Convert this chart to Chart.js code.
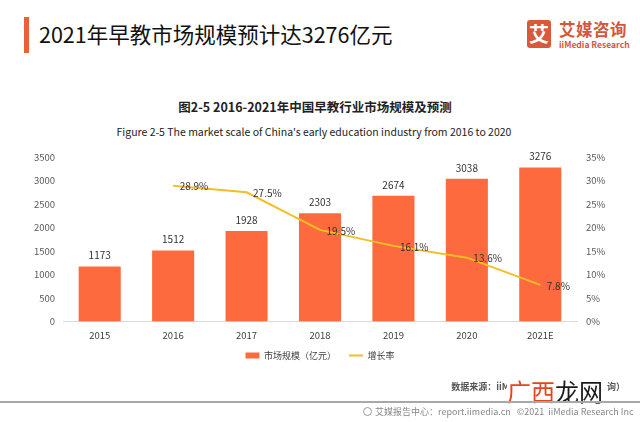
<!DOCTYPE html>
<html><head><meta charset="utf-8">
<script src="https://cdn.jsdelivr.net/npm/chart.js@4.4.1/dist/chart.umd.min.js"></script>
<style>
html,body{margin:0;padding:0;background:#fff;}
body{width:640px;height:422px;overflow:hidden;position:relative;font-family:"Noto Sans CJK SC","Noto Sans",sans-serif;}
.abs{position:absolute;white-space:nowrap;}
#accent{left:24px;top:17px;width:5px;height:36px;background:#E8603C;}
#title{left:39px;top:22px;font-size:21.5px;line-height:24px;color:#111;}
#logoBox{left:527px;top:20px;width:24px;height:28px;border-radius:3px;background:#D9593A;color:#fff;font-size:20px;font-weight:bold;line-height:28px;text-align:center;}
#logoCn{left:559px;top:19px;font-size:16.5px;line-height:20px;font-weight:bold;color:#D4573A;letter-spacing:0.5px;}
#logoEn{left:559px;top:39px;font-size:8.5px;line-height:10px;font-weight:bold;color:#D4573A;}
#ctitle{left:0;width:630px;top:99px;text-align:center;font-size:12.5px;line-height:16px;font-weight:bold;color:#222;}
#csub{left:0;width:628px;top:124px;text-align:center;font-size:10.5px;line-height:16px;color:#222;}
#wrap{left:0;top:140px;width:640px;height:241px;}
#source{right:15px;top:380px;font-size:9px;line-height:14px;color:#555;font-weight:bold;}
#wm{left:507px;top:379px;width:100px;height:24px;background:#fff;font-size:24px;line-height:24px;}
#rule{left:0;top:401px;width:640px;height:2px;background:#A8A8A8;}
#footer{left:363px;top:405px;font-size:9px;line-height:14px;color:#888;}
#footer .ic{display:inline-block;width:9px;height:9px;border:1px solid #999;border-radius:50%;vertical-align:-1px;margin-right:3px;box-sizing:border-box;}
</style></head>
<body>
<div class="abs" id="accent"></div>
<div class="abs" id="title">2021年早教市场规模预计达3276亿元</div>
<div class="abs" id="logoBox">艾</div>
<div class="abs" id="logoCn">艾媒咨询</div>
<div class="abs" id="logoEn">iiMedia Research</div>
<div class="abs" id="ctitle">图2-5 2016-2021年中国早教行业市场规模及预测</div>
<div class="abs" id="csub">Figure 2-5 The market scale of China's early education industry from 2016 to 2020</div>
<div class="abs" id="wrap"><canvas id="c"></canvas></div>
<div class="abs" id="source">数据来源：iiMedia Research（艾媒咨询）</div>
<div class="abs" id="wm"><span style="color:#E2461C">广西</span><span style="color:#1a1a1a">龙网</span></div>
<div class="abs" id="rule"></div>
<div class="abs" id="footer"><span class="ic"></span>艾媒报告中心：report.iimedia.cn&nbsp;&nbsp;&nbsp;©2021&nbsp;&nbsp;iiMedia Research Inc</div>
<script>
const categories = ['2015','2016','2017','2018','2019','2020','2021E'];
const marketSize = [1173,1512,1928,2303,2674,3038,3276];
const growthRate = [null,28.9,27.5,19.5,16.1,13.6,7.8];
const seriesNames = ['市场规模（亿元）','增长率'];

const FONT = '"Noto Sans CJK SC","Noto Sans",sans-serif';
const BAR_COLOR = '#FD6A3E';
const LINE_COLOR = '#F1BF24';

const valueLabels = {
  id: 'valueLabels',
  afterDatasetsDraw(chart) {
    const ctx = chart.ctx;
    ctx.save();
    ctx.font = '10px ' + FONT;
    ctx.fillStyle = '#333';
    ctx.textBaseline = 'middle';
    ctx.textAlign = 'center';
    chart.getDatasetMeta(0).data.forEach((el, i) => {
      ctx.fillText(String(marketSize[i]), el.x, el.y - 11);
    });
    ctx.textAlign = 'left';
    chart.getDatasetMeta(1).data.forEach((el, i) => {
      if (growthRate[i] == null) return;
      ctx.fillText(growthRate[i].toFixed(1) + '%', el.x + 6.5, el.y + 1);
    });
    ctx.restore();
  }
};

// pull the legend a little closer to the axis labels
const legendShift = {
  id: 'legendShift',
  afterLayout(chart) {
    const lg = chart.legend;
    if (lg) { lg.top -= 11; lg.bottom -= 11; }
  }
};

new Chart(document.getElementById('c'), {
  data: {
    labels: categories,
    datasets: [
      {type: 'bar', label: seriesNames[0], data: marketSize, backgroundColor: BAR_COLOR,
       borderWidth: 0, yAxisID: 'y', order: 1, pointStyle: 'rect',
       categoryPercentage: 1, barPercentage: 0.573},
      {type: 'line', label: seriesNames[1], data: growthRate, borderColor: LINE_COLOR,
       backgroundColor: LINE_COLOR, borderWidth: 2, pointRadius: 0, pointStyle: 'line',
       yAxisID: 'y1', order: 0, tension: 0, spanGaps: false}
    ]
  },
  options: {
    responsive: true, maintainAspectRatio: false, animation: false,
    layout: {padding: {top: 17, left: 0, right: 0, bottom: 0}},
    plugins: {
      tooltip: {enabled: false},
      title: {display: false},
      legend: {
        position: 'bottom',
        labels: {
          usePointStyle: true, pointStyleWidth: 14, boxHeight: 6,
          font: {size: 9, family: FONT}, color: '#404040', padding: 13,
          sort: (a, b) => a.datasetIndex - b.datasetIndex
        }
      }
    },
    scales: {
      x: {
        grid: {display: false, drawTicks: false},
        border: {display: true, color: '#D9D9D9'},
        ticks: {padding: 8, color: '#404040', font: {size: 9.5, family: FONT}}
      },
      y: {
        position: 'left', min: 0, max: 3500,
        grid: {display: false, drawTicks: false}, border: {display: false},
        ticks: {stepSize: 500, padding: 8, color: '#595959', font: {size: 9.5, family: FONT},
                callback: v => String(v)},
        afterFit(s) { s.width = 63; }
      },
      y1: {
        position: 'right', min: 0, max: 35,
        grid: {display: false, drawTicks: false}, border: {display: false},
        ticks: {stepSize: 5, padding: 9, color: '#595959', font: {size: 9.5, family: FONT},
                callback: v => v + '%'},
        afterFit(s) { s.width = 63; }
      }
    }
  },
  plugins: [valueLabels, legendShift]
});
</script>
</body></html>
